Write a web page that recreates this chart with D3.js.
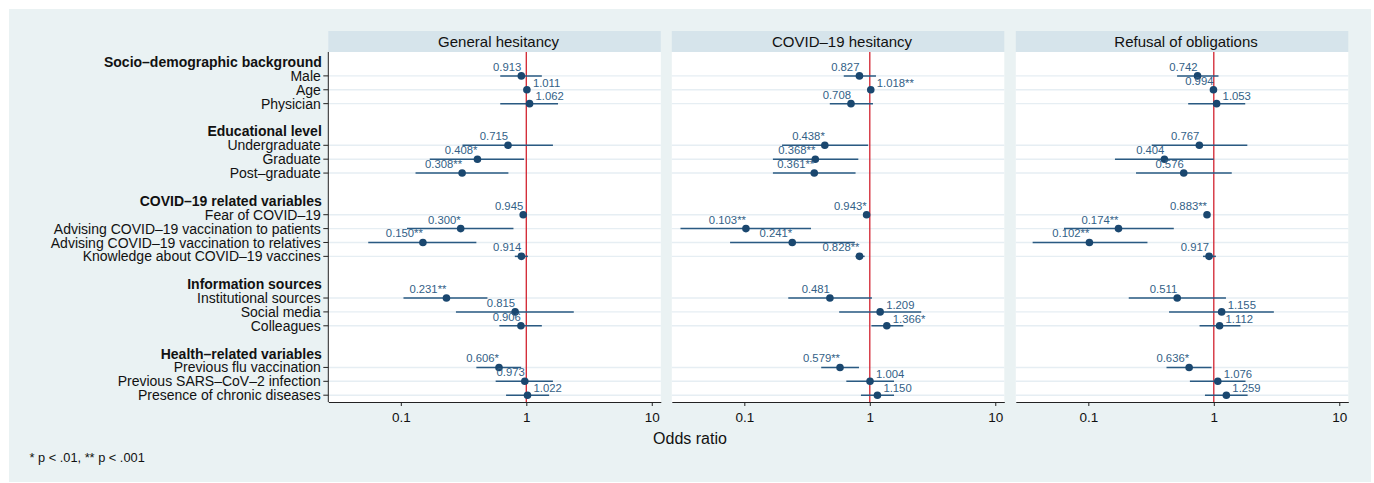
<!DOCTYPE html>
<html><head><meta charset="utf-8">
<script src="https://cdn.jsdelivr.net/npm/d3@7"></script>
<style>html,body{margin:0;padding:0;background:#fff;}svg{display:block;font-family:"Liberation Sans",Arial,Helvetica,sans-serif;}</style>
</head><body>
<script>
// ---- data ----
const groups = ["Socio–demographic background","Educational level","COVID–19 related variables","Information sources","Health–related variables"];
const groupItems = [
  ["Male","Age","Physician"],
  ["Undergraduate","Graduate","Post–graduate"],
  ["Fear of COVID–19","Advising COVID–19 vaccination to patients","Advising COVID–19 vaccination to relatives","Knowledge about COVID–19 vaccines"],
  ["Institutional sources","Social media","Colleagues"],
  ["Previous flu vaccination","Previous SARS–CoV–2 infection","Presence of chronic diseases"]
];
const outcomes = ["General hesitancy","COVID–19 hesitancy","Refusal of obligations"];

const generalOR  = [0.913,1.011,1.062,0.715,0.408,0.308,0.945,0.300,0.150,0.914,0.231,0.815,0.906,0.606,0.973,1.022];
const generalSig = ["","","","","*","**","","*","**","","**","","","*","",""];
const generalLo  = [0.62,0.99,0.62,0.31,0.17,0.131,0.91,0.112,0.055,0.81,0.105,0.275,0.61,0.40,0.57,0.69];
const generalHi  = [1.33,1.03,1.79,1.63,0.96,0.72,0.98,0.79,0.40,1.03,0.49,2.39,1.33,0.91,1.63,1.52];

const covidOR  = [0.827,1.018,0.708,0.438,0.368,0.361,0.943,0.103,0.241,0.828,0.481,1.209,1.366,0.579,1.004,1.150];
const covidSig = ["","**","","*","**","**","*","**","*","**","","","*","**","",""];
const covidLo  = [0.62,1.01,0.48,0.20,0.169,0.169,0.91,0.031,0.077,0.77,0.224,0.57,1.03,0.41,0.65,0.85];
const covidHi  = [1.12,1.03,1.06,0.97,0.81,0.77,0.98,0.34,0.76,0.91,1.04,2.57,1.85,0.82,1.56,1.56];

const refusalOR  = [0.742,0.994,1.053,0.767,0.404,0.576,0.883,0.174,0.102,0.917,0.511,1.155,1.112,0.636,1.076,1.259];
const refusalSig = ["","","","","","","**","**","**","","","","","*","",""];
const refusalLo  = [0.51,0.98,0.625,0.32,0.163,0.24,0.85,0.064,0.036,0.82,0.21,0.44,0.77,0.42,0.645,0.85];
const refusalHi  = [1.09,1.01,1.78,1.85,1.0,1.39,0.92,0.48,0.296,1.04,1.25,3.01,1.63,0.96,1.79,1.86];

const xTicks = [0.1, 1, 10];
const xTickLabels = ["0.1","1","10"];
const xTitle = "Odds ratio";
const footnote = "* p < .01, ** p < .001";

const series = [
  {or: generalOR, sig: generalSig, lo: generalLo, hi: generalHi},
  {or: covidOR, sig: covidSig, lo: covidLo, hi: covidHi},
  {or: refusalOR, sig: refusalSig, lo: refusalLo, hi: refusalHi}
];

// ---- build row layout (header, items, blank) ----
const rows = [];
let itemIdx = 0;
groups.forEach((g, gi) => {
  rows.push({type: "header", label: g});
  groupItems[gi].forEach(it => rows.push({type: "item", label: it, idx: itemIdx++}));
  if (gi < groups.length - 1) rows.push({type: "blank"});
});

// ---- layout ----
const W = 1374, H = 483;
const svg = d3.select("body").append("svg").attr("width", W).attr("height", H);
svg.append("rect").attr("x", 9).attr("y", 9).attr("width", 1362).attr("height", 473).attr("fill", "#eaf2f3");

const panelX = [328.3, 671.8, 1015.8], panelW = 332.5;
const plotTop = 52, plotBot = 402, stripTop = 31;
const y = d3.scaleLinear().domain([0, rows.length - 1]).range([62, 395.2]);

const navy = "#1a476f";

outcomes.forEach((name, p) => {
  const x0 = panelX[p];
  const x = d3.scaleLog().domain([0.02643, 11.8]).range([x0, x0 + panelW]);
  const g = svg.append("g");
  // strip
  g.append("rect").attr("x", x0).attr("y", stripTop).attr("width", panelW).attr("height", plotTop - stripTop).attr("fill", "#d6e4eb");
  g.append("text").attr("x", x0 + panelW / 2 + 4).attr("y", 46.5).attr("text-anchor", "middle")
    .attr("font-size", 15).attr("fill", "#111").text(name);
  // plot bg
  g.append("rect").attr("x", x0).attr("y", plotTop).attr("width", panelW).attr("height", plotBot - plotTop).attr("fill", "#fff");
  // gridlines
  const items = rows.map((r, i) => ({...r, row: i})).filter(r => r.type === "item");
  g.selectAll(".grid").data(items).join("line")
    .attr("x1", x0).attr("x2", x0 + panelW)
    .attr("y1", d => y(d.row)).attr("y2", d => y(d.row))
    .attr("stroke", "#e6eef3").attr("stroke-width", 1.4);
  // reference line
  g.append("line").attr("x1", x(1)).attr("x2", x(1)).attr("y1", plotTop).attr("y2", plotBot)
    .attr("stroke", "#d2232f").attr("stroke-width", 1.3);
  const s = series[p];
  // CI
  g.selectAll(".ci").data(items).join("line")
    .attr("x1", d => x(s.lo[d.idx])).attr("x2", d => x(s.hi[d.idx]))
    .attr("y1", d => y(d.row)).attr("y2", d => y(d.row))
    .attr("stroke", "#2a5a82").attr("stroke-width", 1.5);
  // markers
  g.selectAll(".pt").data(items).join("circle")
    .attr("cx", d => x(s.or[d.idx])).attr("cy", d => y(d.row)).attr("r", 3.8).attr("fill", navy);
  // value labels
  g.selectAll(".lab").data(items).join("text")
    .attr("x", d => s.or[d.idx] < 1 ? x(s.or[d.idx]) : x(s.or[d.idx]) + 6)
    .attr("y", d => s.or[d.idx] < 1 ? y(d.row) - 5 : y(d.row) - 3.2)
    .attr("text-anchor", d => s.or[d.idx] < 1 ? "end" : "start")
    .attr("font-size", 11.3).attr("fill", "#335f87")
    .text(d => s.or[d.idx].toFixed(3) + s.sig[d.idx]);
  // x axis
  const ax = g.append("g").attr("transform", `translate(0,${plotBot})`)
    .call(d3.axisBottom(x).tickValues(xTicks).tickFormat((d, i) => xTickLabels[i]).tickSize(4).tickSizeOuter(0));
  ax.select(".domain").attr("stroke", "#222").attr("stroke-width", 1);
  ax.selectAll(".tick line").attr("stroke", "#222");
  ax.selectAll(".tick text").attr("font-size", 13.5).attr("fill", "#111").attr("dy", "0.95em")
    .attr("font-family", "'Liberation Sans',Arial,sans-serif");

  if (p === 0) {
    // y axis with labels
    const yAx = svg.append("g");
    yAx.append("line").attr("x1", x0).attr("x2", x0).attr("y1", plotTop).attr("y2", plotBot).attr("stroke", "#222").attr("stroke-width", 1);
    yAx.selectAll(".yt").data(items).join("line")
      .attr("x1", x0 - 5).attr("x2", x0).attr("y1", d => y(d.row)).attr("y2", d => y(d.row)).attr("stroke", "#222");
    yAx.selectAll(".yl").data(rows.map((r, i) => ({...r, row: i})).filter(r => r.type !== "blank")).join("text")
      .attr("x", d => d.type === "header" ? x0 - 6.5 : x0 - 7.5)
      .attr("y", d => y(d.row)).attr("dy", "0.36em").attr("text-anchor", "end")
      .attr("font-size", 14).attr("font-weight", d => d.type === "header" ? "bold" : "normal")
      .attr("fill", "#111").text(d => d.label);
  }
});

svg.append("text").attr("x", 690).attr("y", 444).attr("text-anchor", "middle").attr("font-size", 16).attr("fill", "#111").text(xTitle);
svg.append("text").attr("x", 29.5).attr("y", 462).attr("font-size", 12.8).attr("fill", "#111").text(footnote);
</script>
</body></html>
